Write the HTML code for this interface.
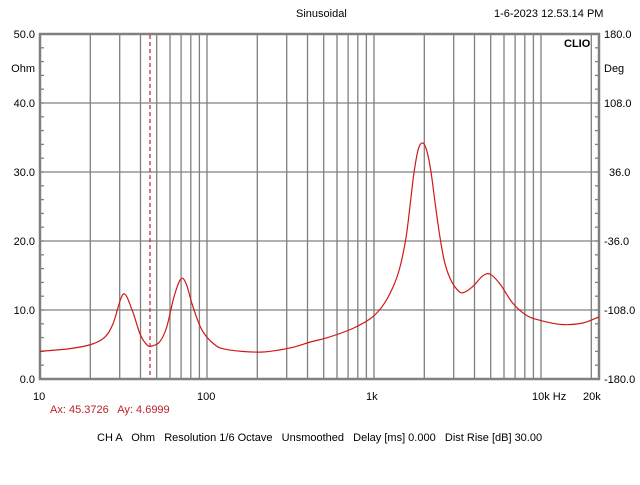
<!DOCTYPE html>
<html><head><meta charset="utf-8"><style>
body{margin:0;background:#fff;}
svg text{font-family:"Liberation Sans",Arial,sans-serif;font-size:11px;fill:#000;}
</style></head><body>
<svg id="s" width="640" height="480" xmlns="http://www.w3.org/2000/svg">
<g id="grid" stroke="#808080" stroke-width="1.3"></g>
<rect x="40" y="34" width="559" height="345" fill="none" stroke="#808080" stroke-width="2.5"/>
<line x1="150" y1="35" x2="150" y2="378" stroke="#c0202a" stroke-width="1.2" stroke-dasharray="4,3"/>
<path id="c" fill="none" stroke="#d01818" stroke-width="1.2"/>
<text x="296" y="17">Sinusoidal</text>
<text x="494" y="17">1-6-2023 12.53.14 PM</text>
<text x="564" y="47" font-weight="bold">CLIO</text>
<g text-anchor="end">
<text x="35" y="38">50.0</text><text x="35" y="72">Ohm</text>
<text x="35" y="107">40.0</text><text x="35" y="176">30.0</text>
<text x="35" y="245">20.0</text><text x="35" y="314">10.0</text><text x="35" y="383">0.0</text>
</g>
<g>
<text x="604" y="38">180.0</text><text x="604" y="72">Deg</text>
<text x="604" y="107">108.0</text><text x="609" y="176">36.0</text>
<text x="604" y="245">-36.0</text><text x="604" y="314">-108.0</text><text x="604" y="383">-180.0</text>
</g>
<text x="33" y="400">10</text><text x="197" y="400">100</text><text x="366" y="400">1k</text>
<text x="532" y="400">10k Hz</text><text x="583" y="400">20k</text>
<text x="50" y="413" xml:space="preserve" style="fill:#c0202a">Ax: 45.3726   Ay: 4.6999</text>
<text x="97" y="441" xml:space="preserve">CH A   Ohm   Resolution 1/6 Octave   Unsmoothed   Delay [ms] 0.000   Dist Rise [dB] 30.00</text>
</svg>
<script>
const GX=f=>40+167*Math.log10(f/10);
const X=f=>40+169.3*Math.log10(f/10), Y=v=>379-6.9*v;
const g=document.getElementById('grid');let h='';
for(let d=10;d<=10000;d*=10)for(let k=1;k<10;k++){const f=d*k;if(f<=10||f>20000)continue;const x=GX(f).toFixed(1);h+=`<line x1="${x}" y1="34" x2="${x}" y2="379"/>`;}
for(let v=10;v<50;v+=10){const y=Y(v);h+=`<line x1="40" y1="${y}" x2="599" y2="${y}"/>`;}
for(let v=0;v<=50;v+=2){const y=Y(v);h+=`<line x1="40" y1="${y}" x2="44" y2="${y}"/><line x1="595" y1="${y}" x2="599" y2="${y}"/>`;}
g.innerHTML=h;
const P=[[10,4],[15,4.4],[20,5],[24,6],[27,8],[31,12.3],[35,10],[39,6.5],[43,4.9],[46,4.8],[51,5.4],[56,7.5],[62,12],[68,14.5],[73,13.8],[80,10.5],[90,7.2],[105,5.2],[125,4.3],[200,3.9],[300,4.5],[400,5.4],[500,6],[700,7.3],[900,8.8],[1050,10.5],[1200,13],[1330,16],[1452,20.5],[1540,25.5],[1620,30],[1720,33.4],[1830,34.2],[1930,33],[2040,30],[2170,25],[2306,20.5],[2450,17],[2641,14.6],[2900,13],[3150,12.5],[3600,13.4],[4100,14.9],[4550,15.2],[5200,13.8],[6200,11],[7500,9.2],[9000,8.5],[12000,7.9],[16000,8.1],[20000,9]];
const pts=P.map(p=>[X(p[0]),Y(p[1])]);
let d=`M${pts[0][0]},${pts[0][1]}`;
for(let i=0;i<pts.length-1;i++){const p0=pts[i-1]||pts[i],p1=pts[i],p2=pts[i+1],p3=pts[i+2]||p2;
d+=` C${p1[0]+(p2[0]-p0[0])/6},${p1[1]+(p2[1]-p0[1])/6} ${p2[0]-(p3[0]-p1[0])/6},${p2[1]-(p3[1]-p1[1])/6} ${p2[0]},${p2[1]}`;}
document.getElementById('c').setAttribute('d',d);
</script>
</body></html>
